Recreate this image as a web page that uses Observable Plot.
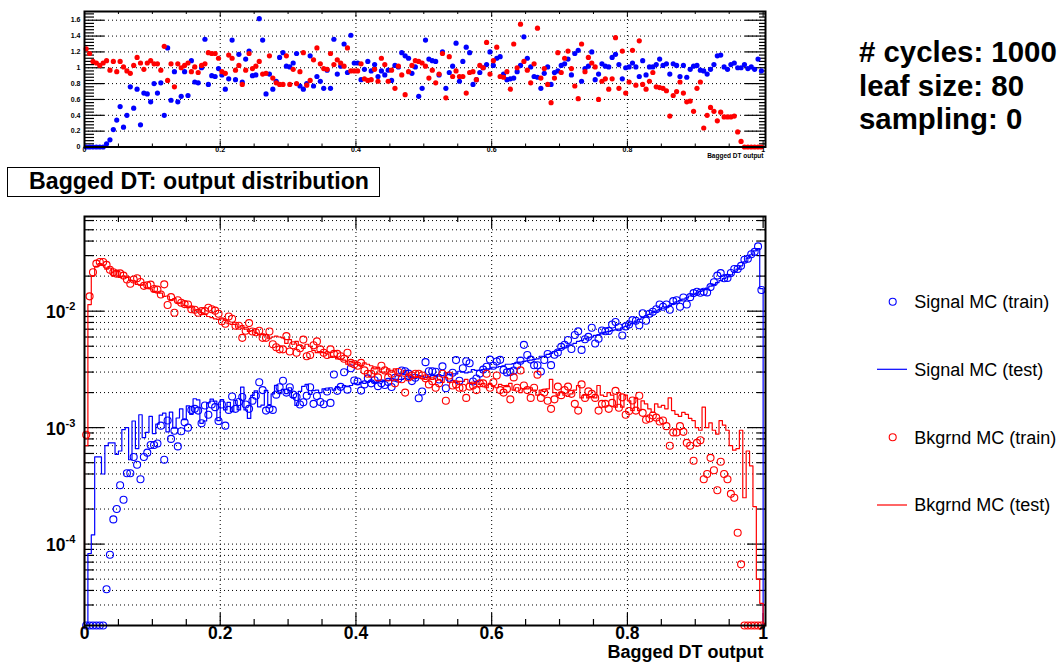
<!DOCTYPE html>
<html><head><meta charset="utf-8">
<script src="https://cdn.jsdelivr.net/npm/d3@7"></script>
<script src="https://cdn.jsdelivr.net/npm/@observablehq/plot@0.6"></script>
<style>
html,body{margin:0;padding:0;background:#fff;}
#wrap{position:relative;width:1063px;height:671px;overflow:hidden;}
#wrap svg{position:absolute;left:0;}
</style></head>
<body><div id="wrap"></div>
<script>
// ---------------- data (200 bins of width 0.005 on [0,1]) ----------------
const binWidth = 0.005;
const title = "Bagged DT: output distribution";
const xTitle = "Bagged DT output";
const paramLines = ["# cycles: 1000", "leaf size: 80", "sampling: 0"];
const seriesNames = ["Signal MC (train)", "Signal MC (test)", "Bkgrnd MC (train)", "Bkgrnd MC (test)"];
const xTicks = [0, 0.2, 0.4, 0.6, 0.8, 1];
const xTickLabels = ["0", "0.2", "0.4", "0.6", "0.8", "1"];
const yDecades = [1e-4, 1e-3, 1e-2];
const yDecadeExp = ["-4", "-3", "-2"];
const ratioTicks = [0, 0.2, 0.4, 0.6, 0.8, 1, 1.2, 1.4, 1.6];
const ratioTickLabels = ["0", "0.2", "0.4", "0.6", "0.8", "1", "1.2", "1.4", "1.6"];

// normalised bin contents, in units of 1e-3
const sigTrain = [
0,0,0,0,0,0,0.041,0.081,0.163,0.20,
0.32,0.24,0.406,0.406,0.56,0.48,0.36,0.56,0.61,0.71,
0.71,0.73,1.04,0.53,1.15,0.80,0.94,0.69,0.93,1.11,
1.00,1.42,1.45,1.40,1.09,1.55,1.29,1.58,1.50,1.14,
1.58,1.04,1.42,1.85,1.45,1.66,1.83,1.58,1.45,1.70,
1.88,2.45,2.10,1.40,1.45,1.42,1.92,2.22,2.53,2.00,
2.22,1.92,1.83,1.58,1.65,1.88,2.22,1.60,1.87,1.66,
1.59,2.04,1.63,2.86,2.07,2.24,2.99,2.12,3.24,2.54,
2.49,2.08,2.35,2.65,2.40,2.55,2.27,2.40,2.32,2.47,
2.23,2.68,2.63,3.09,3.05,2.91,2.51,2.68,1.79,2.04,
3.65,3.05,3.05,3.02,2.59,3.36,2.18,2.68,2.96,3.80,
2.53,3.24,3.72,3.57,2.49,2.64,2.91,3.15,3.33,3.84,
3.40,3.70,3.82,3.13,2.98,3.01,3.09,3.42,3.76,5.14,
4.20,3.84,3.43,3.43,3.03,3.81,4.29,3.44,4.23,4.42,
4.94,5.15,5.66,4.73,6.25,6.71,4.65,5.74,6.02,7.20,
5.27,5.80,6.83,6.73,6.77,7.68,8.07,7.28,6.19,7.40,
7.68,8.37,8.28,7.57,9.59,8.28,9.49,9.90,10.4,11.4,
10.9,11.4,10.3,12.2,12.4,10.9,13.1,11.4,13.2,14.3,
14.7,14.4,14.7,14.5,16.1,17.7,20.2,21.2,19.2,19.3,
21.3,23.0,23.0,24.5,27.6,28.2,30.8,32.3,36.0,15.2];

const sigTest = [
0,0.083,0.12,0.56,0.56,0.40,0.70,0.74,0.74,0.59,
0.63,0.96,1.00,0.53,1.14,0.66,1.29,0.82,0.91,1.25,
0.89,1.07,1.28,1.33,0.92,1.36,0.99,1.21,1.45,1.17,
1.54,1.30,1.77,1.73,1.09,1.14,1.63,1.76,1.69,1.15,
1.74,1.42,1.65,1.37,1.71,1.42,2.23,1.42,1.20,1.89,
2.07,1.51,1.56,2.09,1.58,1.95,2.31,1.96,2.13,1.96,
2.20,1.81,1.55,2.05,2.26,2.35,1.93,2.08,2.10,2.00,
2.15,2.10,2.20,2.10,2.25,2.20,2.30,2.25,2.30,2.40,
2.35,2.45,2.40,2.45,2.50,2.45,2.55,2.50,2.55,2.55,
2.65,2.60,2.60,2.60,2.65,2.60,2.70,2.65,2.80,2.75,
2.70,2.75,2.80,2.80,2.85,2.80,2.95,2.85,2.90,2.90,
3.05,3.00,2.95,3.00,3.15,3.10,3.10,3.15,3.20,3.20,
3.30,3.30,3.35,3.40,3.50,3.50,3.55,3.60,3.65,3.70,
3.75,3.80,3.85,3.90,4.10,4.10,4.25,4.35,4.50,4.60,
4.80,4.90,5.10,5.20,5.30,5.50,5.60,5.80,5.90,6.00,
6.20,6.30,6.50,6.60,6.70,6.80,6.90,7.00,7.20,7.40,
7.60,7.90,8.20,8.50,8.80,9.10,9.40,9.80,10.0,10.3,
10.6,10.9,11.2,11.6,12.0,12.3,12.7,13.0,13.5,14.0,
14.3,14.8,15.3,15.8,16.4,17.0,17.6,18.3,19.0,19.7,
20.5,21.7,23.0,24.5,26.5,28.5,30.5,33.0,34.5,15.6];

const bkgTrain = [
0.87,13.4,21.6,25.6,26.4,26.4,25.0,22.7,21.6,21.0,
21.1,20.2,18.7,17.2,18.7,19.2,17.8,16.5,16.7,16.9,
15.5,15.3,13.9,17.0,11.3,13.2,9.7,12.4,11.8,11.5,
11.4,10.4,10.3,9.7,10.0,10.0,10.7,10.4,10.1,9.5,
8.2,7.8,9.0,8.6,7.5,7.5,5.9,6.8,7.9,6.7,
6.6,6.8,5.9,5.9,6.7,5.2,4.9,4.7,4.7,6.1,
4.5,5.1,4.4,4.8,5.7,4.1,4.2,5.1,5.5,4.7,
4.4,4.2,4.7,4.3,4.3,4.1,3.9,4.4,3.6,3.5,
3.4,3.6,3.1,2.9,2.9,3.1,2.7,3.4,3.1,2.7,
2.9,2.4,3.0,2.6,2.0,2.7,2.8,2.9,2.9,2.8,
2.65,2.35,2.5,2.2,2.4,2.9,1.7,2.8,2.3,2.35,
2.2,2.2,1.8,2.25,2.3,2.1,2.4,2.4,2.9,2.2,
2.45,2.8,2.1,2.0,2.15,1.75,2.7,2.2,3.1,2.3,
2.1,1.8,2.2,2.85,1.8,2.0,1.7,1.45,1.75,2.25,
1.9,2.1,2.25,1.95,1.6,1.4,2.35,1.8,2.05,1.95,
1.8,1.4,1.6,1.6,1.45,1.63,2.07,1.48,1.82,1.29,
1.39,1.71,1.40,1.88,1.34,1.17,1.20,1.27,1.22,1.13,
1.15,1.03,0.70,0.91,0.91,1.03,0.92,0.74,0.70,0.52,
0.74,0.78,0.36,0.40,0.55,0.43,0.29,0.51,0.40,0.36,
0.27,0.25,0.125,0.067,0,0,0,0,0,0];

const bkgTest = [
0.70,11.4,20.0,24.2,25.6,24.9,22.9,23.4,20.0,22.1,
19.5,20.0,19.5,18.5,18.2,17.0,16.8,16.8,15.8,15.5,
14.8,14.6,14.3,13.4,13.5,12.6,12.8,11.8,11.8,11.2,
10.8,10.9,10.2,10.3,9.7,9.5,9.0,8.8,8.6,8.5,
8.6,8.4,7.8,7.7,7.7,7.3,7.5,7.0,6.7,6.8,
6.5,6.3,6.4,6.3,5.8,6.0,6.1,6.0,5.9,5.3,
5.7,5.2,5.5,5.1,4.8,5.2,5.0,4.6,4.4,4.5,
4.4,4.3,4.0,4.1,3.9,3.9,3.8,3.5,3.7,3.6,
3.5,3.4,3.6,3.5,3.4,3.2,3.3,3.0,3.0,3.2,
3.0,3.2,2.9,2.9,3.1,2.8,2.75,2.7,2.7,2.65,
2.6,2.7,2.6,2.75,2.6,2.45,2.7,2.45,2.55,2.45,
2.5,2.5,2.6,2.4,2.4,2.5,2.35,2.4,2.2,2.4,
2.25,2.2,2.35,2.3,2.25,2.4,2.1,2.2,2.0,2.15,
2.15,2.2,2.1,1.9,2.1,2.05,2.15,2.6,2.0,1.9,
2.0,1.9,1.85,1.95,2.1,2.3,1.8,1.9,1.8,1.85,
1.8,2.3,1.9,1.85,2.0,1.9,1.5,2.0,1.5,1.9,
1.7,1.4,1.8,1.4,1.7,1.6,1.45,1.35,1.6,1.5,
1.55,1.45,1.8,1.4,1.3,1.25,1.35,1.3,1.2,1.15,
1.0,0.95,1.5,1.0,1.1,0.95,0.88,1.15,1.05,0.95,
0.70,0.64,0.66,0.95,0.25,0.63,0.47,0.21,0.05,0.031];

// upper panel: train / test ratio per bin
const sigRatio = [
0,0,0,0,0,0,0.04,0.09,0.22,0.34,
0.51,0.25,0.40,0.76,0.49,0.73,0.28,0.68,0.67,0.57,
0.80,0.68,0.81,0.40,1.25,0.59,0.95,0.57,0.64,0.95,
0.65,1.09,0.82,0.81,1.00,1.36,0.79,0.90,0.89,0.99,
0.91,0.73,0.86,1.35,0.85,1.17,0.82,1.11,1.21,0.90,
0.91,1.62,1.35,0.67,0.92,0.73,0.83,1.13,1.19,1.02,
1.01,1.06,1.18,0.77,0.73,0.80,1.15,0.77,0.89,0.83,
0.74,0.97,0.74,1.36,0.92,1.02,1.30,0.94,1.41,1.06,
1.06,0.85,0.98,1.08,0.96,1.04,0.89,0.96,0.91,0.97,
0.84,1.03,1.01,1.19,1.15,1.12,0.93,1.01,0.64,0.74,
1.35,1.11,1.09,1.08,0.91,1.20,0.74,0.94,1.02,1.31,
0.83,1.08,1.26,1.19,0.79,0.85,0.94,1.00,1.04,1.20,
1.03,1.12,1.14,0.92,0.85,0.86,0.87,0.95,1.03,1.39,
1.12,1.01,0.89,0.88,0.74,0.93,1.01,0.79,0.94,0.96,
1.03,1.05,1.11,0.91,1.18,1.22,0.83,0.99,1.02,1.20,
0.85,0.92,1.05,1.02,1.01,1.13,1.17,1.04,0.86,1.00,
1.01,1.06,1.01,0.89,1.09,0.91,1.01,1.01,1.04,1.11,
1.03,1.05,0.92,1.05,1.03,0.89,1.03,0.88,0.98,1.02,
1.03,0.97,0.96,0.92,0.98,1.04,1.15,1.16,1.01,0.98,
1.04,1.06,1.00,1.00,1.04,0.99,1.01,0.98,1.11,0.96];

const bkgRatio = [
1.24,1.18,1.08,1.06,1.03,1.06,1.09,0.97,1.08,0.95,
1.08,1.01,0.96,0.93,1.03,1.13,1.06,0.98,1.06,1.09,
1.05,1.05,0.97,1.27,0.84,1.05,0.76,1.05,1.00,1.03,
1.06,0.95,1.01,0.94,1.03,1.05,1.19,1.18,1.18,1.12,
0.95,0.93,1.16,1.12,0.97,1.03,0.79,0.97,1.18,0.99,
1.02,1.08,0.92,0.93,1.15,0.87,0.81,0.79,0.79,1.15,
0.79,0.98,0.80,0.95,1.19,0.78,0.84,1.10,1.25,1.05,
0.99,0.98,1.18,1.04,1.10,1.06,1.02,1.25,0.96,0.96,
0.96,1.05,0.86,0.84,0.85,0.98,0.83,1.12,1.04,0.83,
0.97,0.74,1.02,0.91,0.66,0.95,1.03,1.09,1.08,1.06,
1.02,0.87,0.97,0.81,0.92,1.18,0.62,1.14,0.89,0.96,
0.89,0.89,0.68,0.94,0.95,0.85,1.03,1.00,1.32,0.92,
1.09,1.26,0.89,0.88,0.95,0.73,1.30,1.00,1.55,1.08,
0.97,0.81,1.05,1.50,0.87,0.99,0.79,0.56,0.87,1.19,
0.94,1.12,1.21,0.99,0.77,0.61,1.30,0.95,1.13,1.06,
1.01,0.60,0.83,0.86,0.73,0.86,1.38,0.74,1.21,0.68,
0.82,1.22,0.78,1.34,0.79,0.73,0.83,0.94,0.76,0.75,
0.74,0.71,0.39,0.65,0.70,0.82,0.68,0.57,0.58,0.45,
0.74,0.82,0.24,0.40,0.50,0.45,0.33,0.44,0.38,0.38,
0.38,0.39,0.19,0.07,0,0,0,0,0,0];

// ---------------- rendering ----------------
const FONT = '"Liberation Sans", Arial, Helvetica, sans-serif';
const BLUE = "#0000ff", RED = "#ff0000";
const Y_MIN = 2e-5, Y_MAX = 0.065;
const X_DOMAIN = [0, 1.0035];
const wrap = document.getElementById("wrap");

function points(arr, scale, floor) {
  return arr.map((v, i) => ({x: (i + 0.5) * binWidth, y: v > 0 ? v * scale : floor}));
}
function steps(arr, scale, floor) {
  const out = [{x: 0, y: floor}];
  arr.forEach((v, i) => {
    const y = v > 0 ? v * scale : floor;
    out.push({x: i * binWidth, y}, {x: (i + 1) * binWidth, y});
  });
  out.push({x: arr.length * binWidth, y: floor});
  return out;
}

// log grid / tick positions
const logMinor = [], logAll = [];
for (let e = -5; e <= -2; e++) for (let m = 1; m <= 9; m++) {
  const v = m * Math.pow(10, e);
  if (v > Y_MIN * 1.001 && v < Y_MAX * 0.999) { logAll.push(v); if (m !== 1) logMinor.push(v); }
}
const xMinorTicks = d3.range(1, 21).map(k => k * 0.05).filter(v => Math.abs(v / 0.2 - Math.round(v / 0.2)) > 1e-6);
const xMajorTicks = [0.2, 0.4, 0.6, 0.8, 1];
const xGrid = [0.2, 0.4, 0.6, 0.8];

// ===== main plot =====
const W = 800, H = 470, mL = 84, mR = 35, mT = 16, mB = 45;
const fw = W - mL - mR, fh = H - mT - mB;
const gridStyle = {stroke: "#000", strokeWidth: 1, strokeDasharray: "1,3"};
const main = Plot.plot({
  width: W, height: H, marginLeft: mL, marginRight: mR, marginTop: mT, marginBottom: mB,
  style: {background: "none", fontFamily: FONT, color: "#000", overflow: "visible"},
  x: {domain: X_DOMAIN, axis: null},
  y: {type: "log", domain: [Y_MIN, Y_MAX], axis: null},
  marks: [
    Plot.ruleY(logAll, gridStyle),
    Plot.ruleX(xGrid, gridStyle),
    Plot.ruleY(yDecades, {stroke: "#000", strokeWidth: 1.2, insetRight: fw - 20}),
    Plot.ruleY(logMinor, {stroke: "#000", strokeWidth: 1.2, insetRight: fw - 10}),
    Plot.ruleY(yDecades, {stroke: "#000", strokeWidth: 1.2, insetLeft: fw - 18}),
    Plot.ruleY(logMinor, {stroke: "#000", strokeWidth: 1.2, insetLeft: fw - 8}),
    Plot.ruleX(xMinorTicks, {stroke: "#000", strokeWidth: 1.2, insetTop: fh - 6}),
    Plot.ruleX(xMajorTicks, {stroke: "#000", strokeWidth: 1.2, insetTop: fh - 12}),
    Plot.ruleX(xMinorTicks, {stroke: "#000", strokeWidth: 1.2, insetBottom: fh - 6}),
    Plot.ruleX(xMajorTicks, {stroke: "#000", strokeWidth: 1.2, insetBottom: fh - 12}),
    Plot.line(steps(sigTest, 1e-3, Y_MIN), {x: "x", y: "y", stroke: BLUE, strokeWidth: 1.2}),
    Plot.line(steps(bkgTest, 1e-3, Y_MIN), {x: "x", y: "y", stroke: RED, strokeWidth: 1.2}),
    Plot.dot(points(sigTrain, 1e-3, Y_MIN), {x: "x", y: "y", r: 3.5, stroke: BLUE, strokeWidth: 1.1, fill: "none"}),
    Plot.dot(points(bkgTrain, 1e-3, Y_MIN), {x: "x", y: "y", r: 3.5, stroke: RED, strokeWidth: 1.1, fill: "none"}),
    Plot.frame({stroke: "#000", strokeWidth: 2}),
    Plot.text(xTicks, {x: d => d, frameAnchor: "bottom", dy: 13, text: (d, i) => xTickLabels[i],
      fontSize: 17.5, fontWeight: "bold", fill: "#000"}),
    Plot.text(yDecades, {y: d => d, frameAnchor: "left", dx: -19, dy: 1.5, textAnchor: "end", text: () => "10",
      fontSize: 17.5, fontWeight: "bold", fill: "#000"}),
    Plot.text(yDecades, {y: d => d, frameAnchor: "left", dx: -19, dy: -4.5, textAnchor: "start",
      text: (d, i) => yDecadeExp[i], fontSize: 11, fontWeight: "bold", fill: "#000"}),
    Plot.text([xTitle], {frameAnchor: "bottom-right", dy: 32, dx: -2, textAnchor: "end",
      fontSize: 18, fontWeight: "bold", fill: "#000"})
  ]
});
main.style.top = "200px";
wrap.appendChild(main);

// ===== ratio plot =====
const RW = 800, RH = 170, rT = 11, rB = 23.5;
const rfh = RH - rT - rB;
const ratioMinor = d3.range(1, 43).map(k => k * 0.04).filter(v => v < 1.71 && Math.abs(v / 0.2 - Math.round(v / 0.2)) > 1e-6);
const ratioMajorInner = ratioTicks.filter(v => v > 0);
const ratio = Plot.plot({
  width: RW, height: RH, marginLeft: mL, marginRight: mR, marginTop: rT, marginBottom: rB,
  style: {background: "none", fontFamily: FONT, color: "#000", overflow: "visible"},
  x: {domain: X_DOMAIN, axis: null},
  y: {domain: [0, 1.71], axis: null},
  marks: [
    Plot.ruleY(ratioMajorInner, gridStyle),
    Plot.ruleX(xGrid, gridStyle),
    Plot.ruleY(ratioMajorInner, {stroke: "#000", strokeWidth: 1.2, insetRight: fw - 20}),
    Plot.ruleY(ratioMinor, {stroke: "#000", strokeWidth: 1.2, insetRight: fw - 10}),
    Plot.ruleY(ratioMajorInner, {stroke: "#000", strokeWidth: 1.2, insetLeft: fw - 20}),
    Plot.ruleY(ratioMinor, {stroke: "#000", strokeWidth: 1.2, insetLeft: fw - 6}),
    Plot.ruleX(xMinorTicks, {stroke: "#000", strokeWidth: 1, insetTop: rfh - 3}),
    Plot.ruleX(xMajorTicks, {stroke: "#000", strokeWidth: 1, insetTop: rfh - 6}),
    Plot.ruleX(xMinorTicks, {stroke: "#000", strokeWidth: 1, insetBottom: rfh - 3}),
    Plot.ruleX(xMajorTicks, {stroke: "#000", strokeWidth: 1, insetBottom: rfh - 6}),
    Plot.dot(points(sigRatio, 1, 0), {x: "x", y: "y", r: 2.6, fill: BLUE, stroke: "none"}),
    Plot.dot(points(bkgRatio, 1, 0), {x: "x", y: "y", r: 2.6, fill: RED, stroke: "none"}),
    Plot.frame({stroke: "#000", strokeWidth: 2}),
    Plot.text(ratioTicks, {y: d => d, frameAnchor: "left", dx: -4, textAnchor: "end",
      text: (d, i) => ratioTickLabels[i], fontSize: 7, fontWeight: "bold", fill: "#000"}),
    Plot.text(xTicks, {x: d => d, frameAnchor: "bottom", dy: 5, text: (d, i) => xTickLabels[i],
      fontSize: 7, fontWeight: "bold", fill: "#000"}),
    Plot.text([xTitle], {frameAnchor: "bottom-right", dy: 10.5, dx: -2, textAnchor: "end",
      fontSize: 6.5, fontWeight: "bold", fill: "#000"})
  ]
});
ratio.style.top = "0px";
wrap.appendChild(ratio);

// ===== annotations: title box, parameter text, legend =====
const ov = d3.create("svg").attr("width", 1063).attr("height", 671)
  .style("top", "0px").style("font-family", FONT);
ov.append("rect").attr("x", 7.5).attr("y", 167.5).attr("width", 372).attr("height", 29)
  .attr("fill", "#fff").attr("stroke", "#000").attr("stroke-width", 1);
ov.append("text").attr("x", 29).attr("y", 188.8).attr("font-size", 23.2).attr("font-weight", "bold")
  .attr("fill", "#000").text(title);
paramLines.forEach((t, i) => {
  ov.append("text").attr("x", 859).attr("y", 62.3 + i * 33.5).attr("font-size", 29.4)
    .attr("font-weight", "bold").attr("fill", "#000").text(t);
});
const legRows = [301.7, 369.3, 437.3, 505];
const legKind = ["dot", "line", "dot", "line"];
const legColor = [BLUE, BLUE, RED, RED];
seriesNames.forEach((name, i) => {
  const y = legRows[i];
  if (legKind[i] === "dot") {
    ov.append("circle").attr("cx", 892.7).attr("cy", y).attr("r", 3.5).attr("fill", "none")
      .attr("stroke", legColor[i]).attr("stroke-width", 1.1);
  } else {
    ov.append("line").attr("x1", 877).attr("x2", 907).attr("y1", y).attr("y2", y)
      .attr("stroke", legColor[i]).attr("stroke-width", 1.2);
  }
  ov.append("text").attr("x", 914.3).attr("y", y + 6.3).attr("font-size", 18).attr("fill", "#000").text(name);
});
wrap.appendChild(ov.node());
</script>
</body></html>
